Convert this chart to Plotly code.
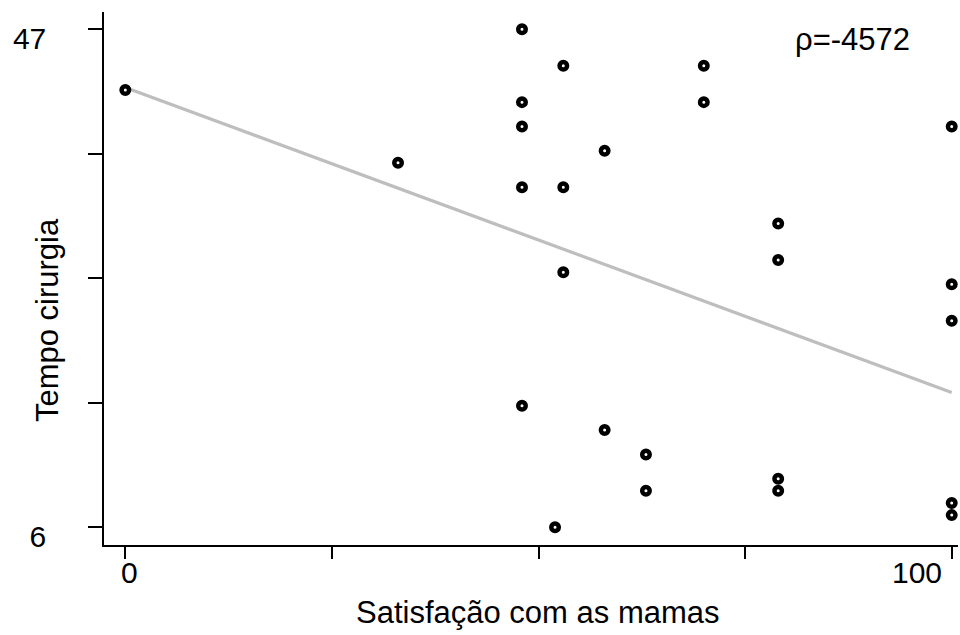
import plotly.graph_objects as go

# ---- data ----
satisfacao = [0, 33, 48, 48, 48, 48, 48, 53, 53, 53, 52, 58, 58, 63, 63,
              70, 70, 79, 79, 79, 79, 100, 100, 100, 100, 100]
tempo = [42, 36, 47, 41, 39, 34, 16, 44, 34, 27, 6, 37, 14, 12, 9,
         44, 41, 31, 28, 10, 9, 39, 26, 23, 8, 7]

fit_x = [0, 100]
fit_y = [42.2, 17.1]

x_tick_vals = [0, 25, 50, 75, 100]
x_tick_labels = ["0", "", "", "", "100"]
y_tick_vals = [6, 16.25, 26.5, 36.75, 47]
y_tick_labels = ["6", "", "", "", "47"]

x_title = "Satisfação com as mamas"
y_title = "Tempo cirurgia"
rho_text = "ρ=-4572"

FONT = "Liberation Sans, Arial, sans-serif"

fig = go.Figure()
fig.add_trace(go.Scatter(
    x=fit_x, y=fit_y, mode="lines",
    line=dict(color="#BEBEBE", width=3.2), hoverinfo="skip", showlegend=False))
fig.add_trace(go.Scatter(
    x=satisfacao, y=tempo, mode="markers", cliponaxis=False,
    marker=dict(symbol="circle", size=7.5, color="white",
                line=dict(color="black", width=4.5)),
    showlegend=False))

fig.update_layout(
    width=960, height=635,
    margin=dict(l=104, r=2, t=12, b=90),
    paper_bgcolor="white", plot_bgcolor="white",
    font=dict(family=FONT, color="black", size=30),
    xaxis=dict(range=[-2.58, 100.76], showgrid=False, zeroline=False,
               showline=True, linecolor="black", linewidth=1.5,
               ticks="outside", ticklen=12, tickwidth=1.5, tickcolor="black",
               tickvals=x_tick_vals, showticklabels=False),
    yaxis=dict(range=[4.54, 48.42], showgrid=False, zeroline=False,
               showline=True, linecolor="black", linewidth=1.5,
               ticks="outside", ticklen=14, tickwidth=1.5, tickcolor="black",
               tickvals=y_tick_vals, ticktext=y_tick_labels,
               ticklabelstandoff=36, ticklabelshift=9,
               tickfont=dict(size=30, family=FONT, color="black")),
)

# x tick labels
for v, lab in zip(x_tick_vals, x_tick_labels):
    if not lab:
        continue
    shift = 4 if v == x_tick_vals[0] else -35
    fig.add_annotation(x=v, y=0, xref="x", yref="paper", text=lab,
                       showarrow=False, xanchor="center", yanchor="middle",
                       xshift=shift, yshift=-27,
                       font=dict(size=30, family=FONT, color="black"))

# axis titles
fig.add_annotation(x=0.508, y=0, xref="paper", yref="paper", text=x_title,
                   showarrow=False, xanchor="center", yanchor="middle",
                   yshift=-67, font=dict(size=31, family=FONT, color="black"))
fig.add_annotation(x=-0.0667, y=0.422, xref="paper", yref="paper", text=y_title,
                   showarrow=False, textangle=-90, xanchor="center",
                   yanchor="middle",
                   font=dict(size=31, family=FONT, color="black"))
# rho label
fig.add_annotation(x=0.877, y=0.9475, xref="paper", yref="paper", text=rho_text,
                   showarrow=False, xanchor="center", yanchor="middle",
                   font=dict(size=31, family=FONT, color="black"))

fig.write_html(
    "out.html",
    config={"displayModeBar": False},
    post_script="document.body.style.margin='0';"
                "document.body.style.padding='0';"
                "document.body.style.overflow='hidden';"
                "document.documentElement.style.overflow='hidden';",
)
